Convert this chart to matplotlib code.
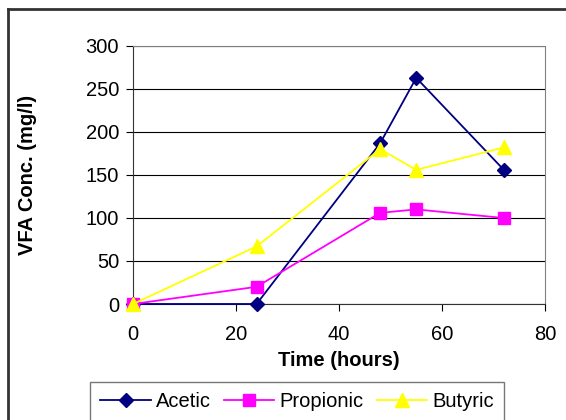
import matplotlib.pyplot as plt
from matplotlib.lines import Line2D

plt.rcParams['font.family'] = ['Liberation Sans', 'DejaVu Sans']

time_h = [0, 24, 48, 55, 72]
acetic = [0, 0, 187, 263, 156]
propionic = [0, 20, 106, 110, 100]
butyric = [0, 67, 180, 156, 182]

series = [
    ("Acetic", acetic, "#000080", "D", 7),
    ("Propionic", propionic, "#FF00FF", "s", 9),
    ("Butyric", butyric, "#FFFF00", "^", 10),
]

W, H = 566, 420
fig = plt.figure(figsize=(W / 100, H / 100), dpi=100)
ax = fig.add_axes([133 / W, 1 - 304 / H, 412 / W, 258 / H])

for label, vals, color, marker, ms in series:
    ax.plot(time_h, vals, color=color, marker=marker, markersize=ms,
            linewidth=1.3, label=label, clip_on=False, zorder=3)

ax.set_xlim(0, 80)
ax.set_ylim(0, 300)
ax.set_xticks(range(0, 81, 20))
ax.set_yticks(range(0, 301, 50))
ax.yaxis.grid(True, color="black", linewidth=0.8)
ax.set_axisbelow(True)
ax.tick_params(direction="out", length=5, labelsize=14.5, colors="black")
ax.tick_params(axis="x", pad=10)
ax.tick_params(axis="y", pad=5)
for side in ["top", "right"]:
    ax.spines[side].set_color("#808080")
for side in ["left", "bottom"]:
    ax.spines[side].set_color("#333333")

ax.set_xlabel("Time (hours)", fontsize=14.5, fontweight="bold", labelpad=5)
ax.set_ylabel("VFA Conc. (mg/l)", fontsize=14.5, fontweight="bold", labelpad=35)

leg = fig.legend(loc="lower left", bbox_to_anchor=(90 / W, -0.004), ncol=3,
                 frameon=True, fancybox=False, edgecolor="#555555",
                 fontsize=14.5, handlelength=2.5, columnspacing=0.65,
                 handletextpad=0.25, borderpad=0.52, borderaxespad=0)
leg.get_frame().set_linewidth(1)

# outer chart border (only left and top edges fall inside the image)
fig.add_artist(Line2D([7.5 / W, 7.5 / W], [0, 1 - 8.5 / H], color="#333333", linewidth=2))
fig.add_artist(Line2D([7.5 / W, 1], [1 - 8.5 / H, 1 - 8.5 / H], color="#333333", linewidth=2))

fig.savefig("out.png", dpi=100)
